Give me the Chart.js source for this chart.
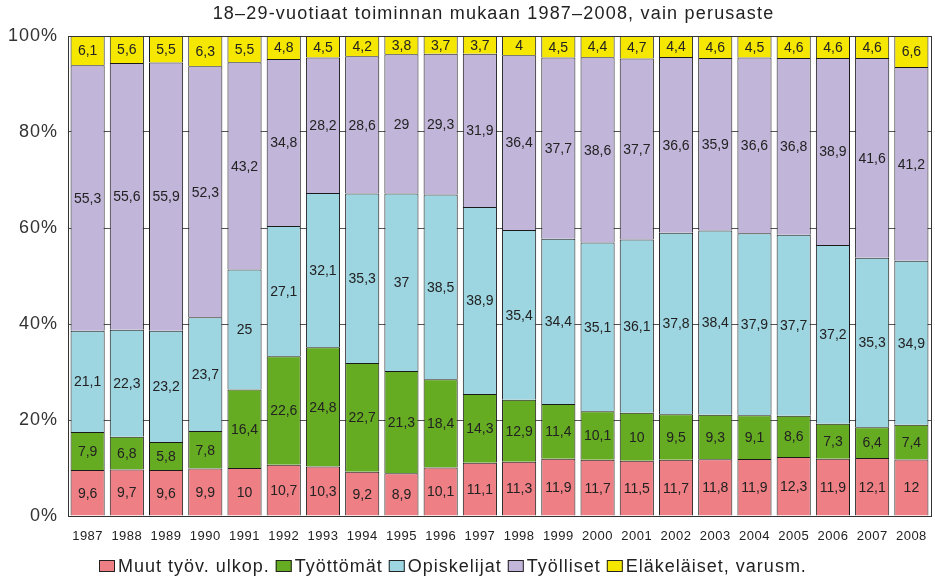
<!DOCTYPE html>
<html>
<head>
<meta charset="utf-8">
<script src="https://cdn.jsdelivr.net/npm/chart.js@4.4.1/dist/chart.umd.min.js"></script>
<style>
html,body{margin:0;padding:0;background:#fff;}
#wrap{width:935px;height:579px;position:relative;}
</style>
</head>
<body>
<div id="wrap"><canvas id="c" width="935" height="579"></canvas></div>
<script>
const years = ["1987","1988","1989","1990","1991","1992","1993","1994","1995","1996","1997","1998","1999","2000","2001","2002","2003","2004","2005","2006","2007","2008"];
const muut = [9.6,9.7,9.6,9.9,10,10.7,10.3,9.2,8.9,10.1,11.1,11.3,11.9,11.7,11.5,11.7,11.8,11.9,12.3,11.9,12.1,12];
const tyottomat = [7.9,6.8,5.8,7.8,16.4,22.6,24.8,22.7,21.3,18.4,14.3,12.9,11.4,10.1,10,9.5,9.3,9.1,8.6,7.3,6.4,7.4];
const opiskelijat = [21.1,22.3,23.2,23.7,25,27.1,32.1,35.3,37,38.5,38.9,35.4,34.4,35.1,36.1,37.8,38.4,37.9,37.7,37.2,35.3,34.9];
const tyolliset = [55.3,55.6,55.9,52.3,43.2,34.8,28.2,28.6,29,29.3,31.9,36.4,37.7,38.6,37.7,36.6,35.9,36.6,36.8,38.9,41.6,41.2];
const elakelaiset = [6.1,5.6,5.5,6.3,5.5,4.8,4.5,4.2,3.8,3.7,3.7,4,4.5,4.4,4.7,4.4,4.6,4.5,4.6,4.6,4.6,6.6];
const yTicks = [0,20,40,60,80,100];

const seriesNames = ["Muut työv. ulkop.","Työttömät","Opiskelijat","Työlliset","Eläkeläiset, varusm."];
const seriesColors = ["#ee7f84","#66ac22","#9dd5e1","#c1b6d9","#f6e700"];
const FONT = '"Liberation Sans", Arial, sans-serif';
const raw = [muut, tyottomat, opiskelijat, tyolliset, elakelaiset];
const totals = years.map((_, i) => raw.reduce((s, a) => s + a[i], 0));

const datasets = raw.map((arr, k) => ({
  label: seriesNames[k],
  data: arr.map((v, i) => v / totals[i] * 100),
  rawValues: arr,
  backgroundColor: seriesColors[k],
  borderColor: "#1a1a1a",
  borderWidth: {left:1, right:1, top:1, bottom:0},
  borderSkipped: false,
  barPercentage: 0.87,
  categoryPercentage: 1.0
}));

function withSpacing(obj, method, sp, dx) {
  if (!obj || obj['_sp_' + method]) return;
  const orig = obj[method];
  obj[method] = function(...args) {
    const c = this.ctx;
    c.save();
    c.letterSpacing = sp;
    if (dx) c.translate(dx, 0);
    const r = orig.apply(this, args);
    c.restore();
    return r;
  };
  obj['_sp_' + method] = true;
}

const spacingPlugin = {
  id: 'spacing',
  beforeDraw(chart) {
    withSpacing(chart.titleBlock, 'draw', '1.2px', 28);
    withSpacing(chart.scales.y, 'drawLabels', '1px', 0);
    withSpacing(chart.scales.x, 'drawLabels', '0.5px', 0);
  }
};

const labelPlugin = {
  id: 'valueLabels',
  afterDatasetsDraw(chart) {
    const ctx = chart.ctx;
    ctx.save();
    ctx.letterSpacing = '0px';
    ctx.font = '14px ' + FONT;
    ctx.fillStyle = '#222';
    ctx.textAlign = 'center';
    ctx.textBaseline = 'middle';
    chart.data.datasets.forEach((ds, di) => {
      const meta = chart.getDatasetMeta(di);
      meta.data.forEach((el, i) => {
        const v = ds.rawValues[i];
        const y = (el.y + el.base) / 2;
        ctx.fillText(String(v).replace('.', ','), el.x, y + 1);
      });
    });
    ctx.restore();
  }
};

const framePlugin = {
  id: 'frame',
  afterDraw(chart) {
    const a = chart.chartArea, ctx = chart.ctx;
    ctx.save();
    ctx.strokeStyle = '#333';
    ctx.lineWidth = 1;
    ctx.strokeRect(Math.round(a.left) + 0.5, Math.round(a.top) + 0.5, Math.round(a.right - a.left), Math.round(a.bottom - a.top));
    ctx.restore();
  }
};

const legendPlugin = {
  id: 'customLegend',
  afterDraw(chart) {
    const ctx = chart.ctx;
    ctx.save();
    ctx.font = '18px ' + FONT;
    ctx.letterSpacing = '1px';
    const boxW = 16, boxH = 12, gap = 3, itemGap = 6;
    const widths = seriesNames.map(t => ctx.measureText(t).width);
    const total = widths.reduce((s, w) => s + boxW + gap + w, 0) + itemGap * (seriesNames.length - 1);
    let x = Math.round(453 - total / 2);
    const cy = 566;
    ctx.textAlign = 'left';
    ctx.textBaseline = 'middle';
    seriesNames.forEach((t, i) => {
      ctx.fillStyle = seriesColors[i];
      ctx.fillRect(x, cy - boxH / 2, boxW, boxH);
      ctx.strokeStyle = '#222';
      ctx.lineWidth = 1;
      ctx.strokeRect(x + 0.5, cy - boxH / 2 + 0.5, boxW - 1, boxH - 1);
      x += boxW + gap;
      ctx.fillStyle = '#222';
      ctx.fillText(t, x, cy + 1);
      x += widths[i] + itemGap;
    });
    ctx.restore();
  }
};

new Chart(document.getElementById('c'), {
  type: 'bar',
  data: { labels: years, datasets: datasets },
  plugins: [spacingPlugin, labelPlugin, framePlugin, legendPlugin],
  options: {
    responsive: false,
    animation: false,
    layout: { padding: { left: 0, right: 4, top: 0, bottom: 35 } },
    plugins: {
      title: {
        display: true,
        text: '18–29-vuotiaat toiminnan mukaan 1987–2008, vain perusaste',
        color: '#222',
        font: { size: 18, family: FONT, weight: 'normal', lineHeight: 1.2 },
        padding: { top: 3, bottom: 11.4 }
      },
      legend: { display: false },
      tooltip: { enabled: false }
    },
    scales: {
      x: {
        stacked: true,
        grid: { display: false },
        border: { display: false },
        afterFit(axis) { axis.height = 28; },
        ticks: { color: '#222', font: { size: 13, family: FONT, lineHeight: 1.2 }, maxRotation: 0, autoSkip: false, padding: 5 }
      },
      y: {
        stacked: true,
        min: 0, max: 100,
        afterBuildTicks(axis) { axis.ticks = yTicks.map(v => ({ value: v })); },
        afterFit(axis) { axis.width = 68; },
        grid: { color: '#555', drawTicks: false },
        border: { display: false },
        ticks: {
          color: '#333',
          font: { size: 18, family: FONT },
          padding: 10,
          callback: v => v + '%'
        }
      }
    }
  }
});
</script>
</body>
</html>
